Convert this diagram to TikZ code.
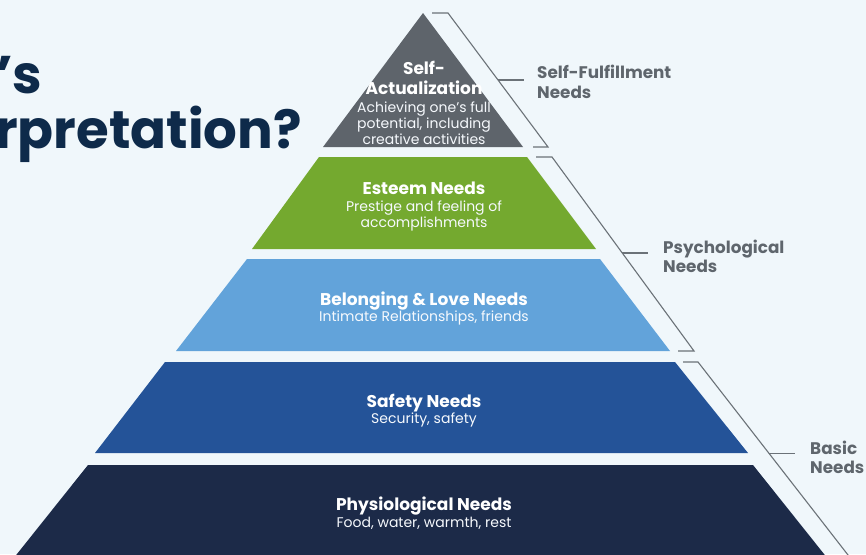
\documentclass[tikz,border=0pt]{standalone}
\usepackage{fontspec}
\setmainfont{Poppins}
\usetikzlibrary{calc}
\definecolor{bgc}{HTML}{F0F7FB}
\definecolor{cSelf}{HTML}{5E646B}
\definecolor{cEsteem}{HTML}{74A92F}
\definecolor{cLove}{HTML}{62A3DA}
\definecolor{cSafety}{HTML}{245398}
\definecolor{cBasic}{HTML}{1C2A48}
\definecolor{cTitle}{HTML}{0E2A4A}
\definecolor{cLine}{HTML}{6B7278}
\definecolor{cTag}{HTML}{5F666D}
\begin{document}
\begin{tikzpicture}[x=1pt,y=-1pt,
  head/.style={font=\bfseries\fontsize{17}{19}\selectfont, text=white, anchor=base, inner sep=0},
  sub/.style={font=\fontsize{14}{16}\selectfont, text=white!94!cLove, anchor=base, inner sep=0},
  bracket/.style={draw=cLine, line width=1.1pt},
  tag/.style={font=\bfseries\fontsize{16.8}{20}\selectfont, text=cTag, anchor=base west, inner sep=0},
  title/.style={font=\bfseries\fontsize{53}{60}\selectfont, text=cTitle, anchor=base west, inner sep=0},
]
% page and background
\fill[bgc] (0,0) rectangle (866,554);
\useasboundingbox (0,0) rectangle (866,554);

% heading, clipped by the left edge
\node[title] (t1) at (-4,93) {’s};
\node[title] (t2) at (-5,148) {rpretation?};

% pyramid levels
\fill[cSelf]   (423,13) -- (523,147) -- (323,147) -- cycle;
\fill[cEsteem] (319,157) -- (527,157) -- (596,249) -- (252,249) -- cycle;
\fill[cLove]   (247,259) -- (600,259) -- (670,351) -- (176,351) -- cycle;
\fill[cSafety] (165,362) -- (675,362) -- (748,453) -- (95,453) -- cycle;
\fill[cBasic]  (88,465) -- (753,465) -- (832,564) -- (9,564) -- cycle;

% level texts
\node[head] (s1) at (424,74) {Self-};
\node[head] (s2) at (424,94) {Actualization};
\node[sub]  (s3) at (424,112) {Achieving one’s full};
\node[sub]  (s4) at (424,128) {potential, including};
\node[sub]  (s5) at (424,144) {creative activities};

\node[head] (e1) at (424,194) {Esteem Needs};
\node[sub]  (e2) at (424,211) {Prestige and feeling of};
\node[sub]  (e3) at (424,227) {accomplishments};

\node[head] (l1) at (424,305) {Belonging \& Love Needs};
\node[sub]  (l2) at (424,321) {Intimate Relationships, friends};

\node[head] (f1) at (424,407) {Safety Needs};
\node[sub]  (f2) at (424,423) {Security, safety};

\node[head] (p1) at (424,510) {Physiological Needs};
\node[sub]  (p2) at (424,527) {Food, water, warmth, rest};

% brackets
\coordinate (a0) at (432,13);  \coordinate (a1) at (448,13);
\coordinate (a2) at (548,147); \coordinate (a3) at (533,147);
\coordinate (b0) at (536,157); \coordinate (b1) at (552,157);
\coordinate (b2) at (694,351); \coordinate (b3) at (678,351);
\coordinate (c0) at (683,362); \coordinate (c1) at (698,362);
\coordinate (c2) at (855,564);

\draw[bracket] (a0) -- (a1) -- (a2) -- (a3);
\draw[bracket] (b0) -- (b1) -- (b2) -- (b3);
\draw[bracket] (c0) -- (c1) -- (c2);

\coordinate (am) at ($(a1)!0.5!(a2)$);
\coordinate (bm) at ($(b1)!0.495!(b2)$);
\coordinate (cm) at ($(c1)!0.455!(c2)$);
\draw[bracket] (am) -- ++(26,0) coordinate (ae);
\draw[bracket] (bm) -- ++(26,0) coordinate (be);
\draw[bracket] (cm) -- ++(26,0) coordinate (ce);

% group labels
\node[tag] (g1) at (537,78) {Self-Fulfillment};
\node[tag] (g2) at (537,98) {Needs};
\node[tag] (h1) at (663,253) {Psychological};
\node[tag] (h2) at (663,272) {Needs};
\node[tag] (k1) at (810,454) {Basic};
\node[tag] (k2) at (810,473) {Needs};
\end{tikzpicture}
\end{document}
